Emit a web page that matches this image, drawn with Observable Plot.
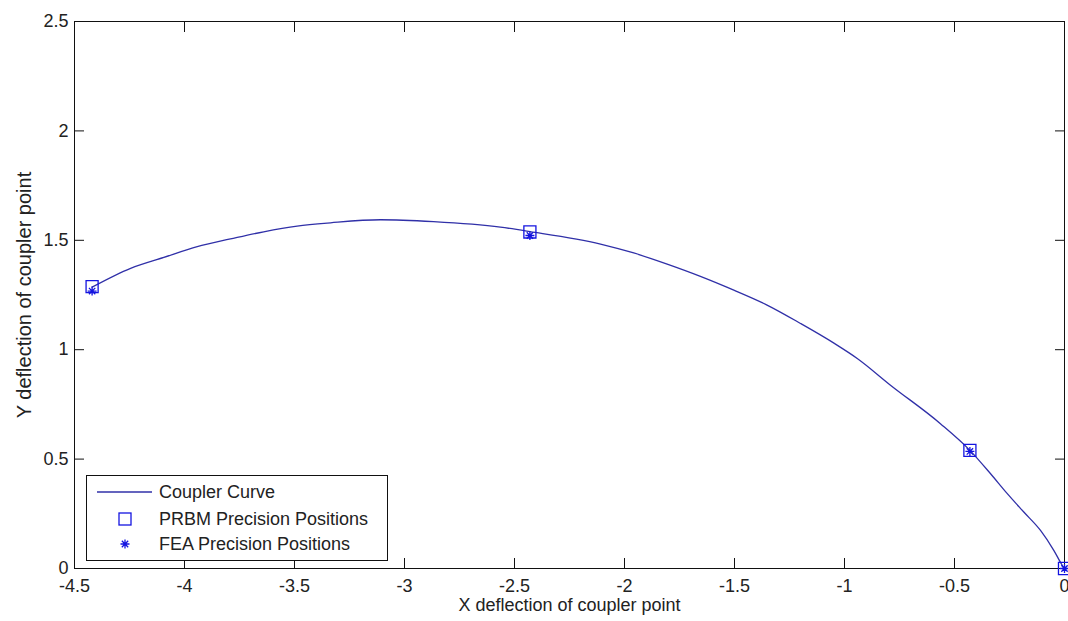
<!DOCTYPE html>
<html><head><meta charset="utf-8">
<script src="https://cdn.jsdelivr.net/npm/d3@7"></script>
<script src="https://cdn.jsdelivr.net/npm/@observablehq/plot@0.6"></script>
<style>body{margin:0;background:#fff;} #chart{width:1068px;height:621px;}</style>
</head><body><div id="chart"></div>
<script>
// Coupler curve
const curveX = [-4.42, -4.245, -4.094, -3.942, -3.791, -3.64, -3.488, -3.336, -3.109, -2.868, -2.564, -2.43, -2.109, -1.958, -1.806, -1.655, -1.503, -1.352, -1.2, -1.048, -0.942, -0.791, -0.564, -0.43, -0.336, -0.26, -0.185, -0.109, -0.048, -0.011, 0];
const curveY = [1.286, 1.372, 1.422, 1.471, 1.506, 1.539, 1.565, 1.58, 1.594, 1.585, 1.56, 1.54, 1.483, 1.442, 1.391, 1.335, 1.272, 1.204, 1.12, 1.03, 0.96, 0.838, 0.662, 0.54, 0.433, 0.342, 0.258, 0.174, 0.082, 0.016, 0];
// PRBM precision positions
const prbmX = [-4.42, -2.43, -0.43, 0];
const prbmY = [1.288, 1.538, 0.54, 0];
// FEA precision positions
const feaX = [-4.42, -2.43, -0.43, 0];
const feaY = [1.268, 1.522, 0.535, 0];
// Ticks
const xTicks = [-4.5, -4, -3.5, -3, -2.5, -2, -1.5, -1, -0.5, 0];
const xTickLabels = ["-4.5", "-4", "-3.5", "-3", "-2.5", "-2", "-1.5", "-1", "-0.5", "0"];
const yTicks = [0, 0.5, 1, 1.5, 2, 2.5];
const yTickLabels = ["0", "0.5", "1", "1.5", "2", "2.5"];
const xLabel = "X deflection of coupler point";
const yLabel = "Y deflection of coupler point";
const legendLabels = ["Coupler Curve", "PRBM Precision Positions", "FEA Precision Positions"];

const lineColor = "#3030a8";
const markColor = "#1414e0";
const textColor = "#222";
const fontFamily = "'Liberation Sans', Arial, Helvetica, sans-serif";

const curve = curveX.map((x, i) => ({x, y: curveY[i]}));
const prbm = prbmX.map((x, i) => ({x, y: prbmY[i]}));
const fea = feaX.map((x, i) => ({x, y: feaY[i]}));

const star = {
  draw(ctx, size) {
    const r = Math.sqrt(size / Math.PI);
    const d = r * 0.7071;
    ctx.moveTo(-r, 0); ctx.lineTo(r, 0);
    ctx.moveTo(0, -r); ctx.lineTo(0, r);
    ctx.moveTo(-d, -d); ctx.lineTo(d, d);
    ctx.moveTo(-d, d); ctx.lineTo(d, -d);
  }
};

const xFmt = d => xTickLabels[xTicks.indexOf(d)];
const yFmt = d => yTickLabels[yTicks.indexOf(d)];

const plot = Plot.plot({
  width: 1068, height: 621,
  marginLeft: 74, marginRight: 4, marginTop: 21, marginBottom: 53,
  style: {fontFamily, fontSize: "18px", color: textColor, background: "#fff", overflow: "visible"},
  x: {domain: [-4.5, 0]},
  y: {domain: [0, 2.5]},
  marks: [
    Plot.axisX({anchor: "bottom", ticks: xTicks, tickFormat: xFmt, tickSize: -10, tickPadding: 21, fontSize: 18, label: null, stroke: "#111"}),
    Plot.axisX({anchor: "top", ticks: xTicks, tickFormat: () => "", tickSize: -10, label: null, stroke: "#111"}),
    Plot.axisY({anchor: "left", ticks: yTicks, tickFormat: yFmt, tickSize: -10, tickPadding: 16, fontSize: 18, label: null, stroke: "#111"}),
    Plot.axisY({anchor: "right", ticks: yTicks, tickFormat: () => "", tickSize: -10, label: null, stroke: "#111"}),
    Plot.frame({stroke: "#111"}),
    Plot.line(curve, {x: "x", y: "y", stroke: lineColor, strokeWidth: 1.3, curve: "monotone-x"}),
    Plot.dot(prbm, {x: "x", y: "y", symbol: "square", r: 6.8, stroke: markColor, fill: "none", strokeWidth: 1.3}),
    Plot.dot(fea, {x: "x", y: "y", symbol: star, r: 4.5, stroke: markColor, fill: "none", strokeWidth: 1.3}),
    Plot.text([xLabel], {frameAnchor: "bottom", lineAnchor: "middle", textAnchor: "middle", dy: 37, fontSize: 18, fill: textColor}),
    Plot.text([yLabel], {frameAnchor: "left", lineAnchor: "middle", textAnchor: "middle", dx: -50, rotate: -90, fontSize: 20, fill: textColor})
  ]
});

// Legend inside the plot area (lower left)
const svg = d3.select(plot);
const g = svg.append("g").attr("font-family", fontFamily).attr("font-size", 18)
  .attr("fill", textColor).attr("text-anchor", "start");
g.append("rect").attr("x", 86.5).attr("y", 475.5).attr("width", 301).attr("height", 85)
  .attr("fill", "#fff").attr("stroke", "#111");
const rowY = [492, 519, 544];
legendLabels.forEach((lab, i) => {
  const y = rowY[i];
  if (i === 0) {
    g.append("line").attr("x1", 97).attr("x2", 152).attr("y1", y).attr("y2", y)
      .attr("stroke", lineColor).attr("stroke-width", 1.3);
  } else if (i === 1) {
    const s = 12;
    g.append("rect").attr("x", 125 - s / 2).attr("y", y - s / 2).attr("width", s).attr("height", s)
      .attr("fill", "none").attr("stroke", markColor).attr("stroke-width", 1.3);
  } else {
    g.append("path").attr("transform", `translate(125,${y})`)
      .attr("d", d3.symbol(star, Math.PI * 4.5 * 4.5)())
      .attr("fill", "none").attr("stroke", markColor).attr("stroke-width", 1.3);
  }
  g.append("text").attr("x", 159).attr("y", y).attr("dy", "0.35em").attr("text-anchor", "start").text(lab);
});

document.getElementById("chart").append(plot);
</script>
</body></html>
